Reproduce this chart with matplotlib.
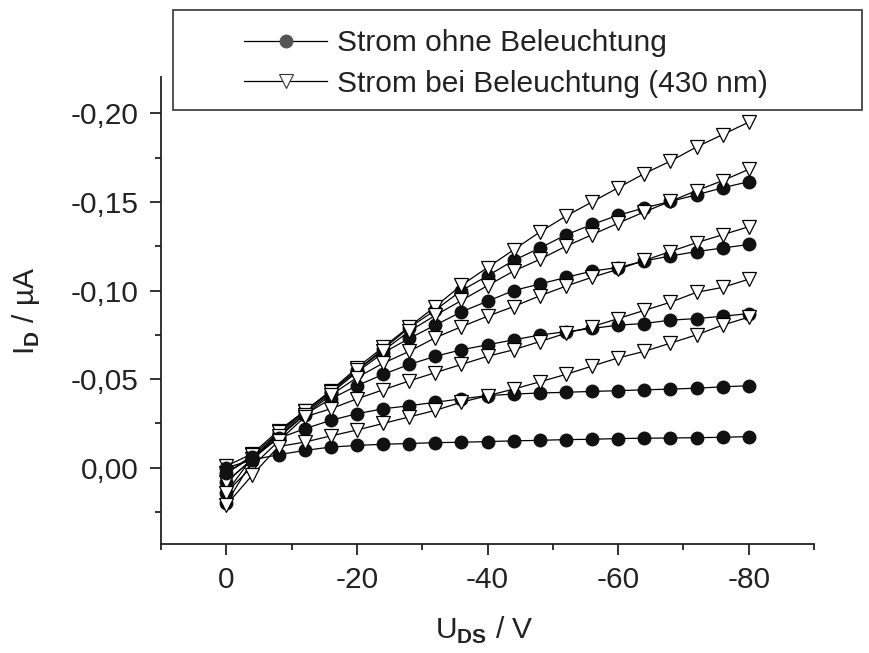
import numpy as np
import matplotlib
matplotlib.use('Agg')
import matplotlib.pyplot as plt
from matplotlib.lines import Line2D
from matplotlib.patches import Rectangle

plt.rcParams['font.family'] = ['Liberation Sans', 'DejaVu Sans']
plt.rcParams['mathtext.fontset'] = 'custom'
plt.rcParams['mathtext.rm'] = 'Liberation Sans'
plt.rcParams['mathtext.bf'] = 'Liberation Sans:bold'

# U_DS magnitude in V (plotted as 0 ... -80)
u_ds = np.arange(0, 81, 4)

# drain current magnitude in uA, without illumination (filled circles)
dark_1 = [-0.020, 0.004, 0.020, 0.032, 0.043, 0.055, 0.067, 0.079, 0.089, 0.100, 0.1083,
          0.117, 0.124, 0.1314, 0.1373, 0.1425, 0.1466, 0.1503, 0.154, 0.158, 0.1614]
dark_2 = [-0.014, 0.006, 0.019, 0.031, 0.042, 0.054, 0.0648, 0.073, 0.0805, 0.088, 0.094,
          0.100, 0.1037, 0.1074, 0.111, 0.113, 0.1167, 0.1195, 0.122, 0.124, 0.126]
dark_3 = [-0.008, 0.005, 0.017, 0.030, 0.0389, 0.0463, 0.0527, 0.0583, 0.0629, 0.0666, 0.0694,
          0.0722, 0.0749, 0.0768, 0.0786, 0.0805, 0.0814, 0.0833, 0.0842, 0.0855, 0.087]
dark_4 = [-0.003, 0.006, 0.0167, 0.022, 0.0268, 0.0305, 0.0333, 0.035, 0.037, 0.0389, 0.0407,
          0.0416, 0.0422, 0.0426, 0.0431, 0.0435, 0.044, 0.0444, 0.0449, 0.0457, 0.0463]
dark_5 = [0.000, 0.0045, 0.0074, 0.0098, 0.0117, 0.0126, 0.0133, 0.0137, 0.0142, 0.0144, 0.0148,
          0.0152, 0.0155, 0.0159, 0.0161, 0.0165, 0.0167, 0.0168, 0.0170, 0.0172, 0.0176]

# with illumination at 430 nm (open triangles)
light_1 = [0.001, 0.008, 0.021, 0.032, 0.0435, 0.0564, 0.068, 0.0796, 0.091, 0.103, 0.113,
           0.123, 0.133, 0.142, 0.150, 0.158, 0.166, 0.173, 0.181, 0.188, 0.195]
light_2 = [-0.003, 0.007, 0.020, 0.032, 0.043, 0.055, 0.066, 0.077, 0.086, 0.0944, 0.1028,
           0.111, 0.1176, 0.125, 0.1315, 0.138, 0.1444, 0.1503, 0.1564, 0.162, 0.1684]
light_3 = [-0.008, 0.005, 0.018, 0.030, 0.041, 0.0509, 0.059, 0.0657, 0.0734, 0.0796, 0.0855,
           0.091, 0.097, 0.1025, 0.1075, 0.112, 0.117, 0.122, 0.127, 0.1315, 0.136]
light_4 = [-0.014, 0.001, 0.015, 0.0287, 0.0333, 0.0389, 0.044, 0.049, 0.0537, 0.0583, 0.0629,
           0.0666, 0.0712, 0.0759, 0.0796, 0.0842, 0.0888, 0.0934, 0.099, 0.1018, 0.1064]
light_5 = [-0.021, -0.004, 0.012, 0.0145, 0.018, 0.0213, 0.025, 0.0287, 0.0324, 0.037, 0.0407,
           0.0444, 0.0485, 0.0527, 0.0574, 0.062, 0.0657, 0.0703, 0.075, 0.0805, 0.085]

dark = [dark_1, dark_2, dark_3, dark_4, dark_5]
light = [light_1, light_2, light_3, light_4, light_5]

FS = 21.5
INK = '#222222'

fig = plt.figure(figsize=(8.7, 6.53), dpi=100)
ax = fig.add_axes([0.1851, 0.1669, 0.7506, 0.7152])

for d, l in zip(dark, light):
    ax.plot(u_ds, d, color='black', lw=0.9, marker='o', markersize=9,
            markerfacecolor='#111111', markeredgecolor='#111111', zorder=3)
    ax.plot(u_ds, l, color='black', lw=0.9, marker='v', markersize=10,
            markerfacecolor='white', markeredgecolor='black', markeredgewidth=0.9, zorder=3)

ax.set_xlim(-10, 90)
ax.set_ylim(-0.043, 0.2205)
ax.set_xticks([0, 20, 40, 60, 80])
ax.set_xticks([-10, 10, 30, 50, 70, 90], minor=True)
ax.set_xticklabels(['0', '-20', '-40', '-60', '-80'])
yt = [0, 0.05, 0.10, 0.15, 0.20]
ax.set_yticks(yt)
ax.set_yticks([-0.025, 0.025, 0.075, 0.125, 0.175], minor=True)
ax.set_yticklabels(['0,00' if v == 0 else '-' + f'{v:.2f}'.replace('.', ',') for v in yt])

for s in ['top', 'right']:
    ax.spines[s].set_visible(False)
for s in ['left', 'bottom']:
    ax.spines[s].set_linewidth(1.3)
    ax.spines[s].set_color(INK)
ax.tick_params(which='major', direction='out', length=8, width=1.3, color=INK,
               labelsize=FS, labelcolor=INK, pad=8)
ax.tick_params(which='minor', direction='out', length=4.5, width=1.3, color=INK)

ax.set_xlabel(r'U$_\mathbf{DS}$ / V', fontsize=FS, color=INK)
ax.set_ylabel(r'I$_\mathbf{D}$ / µA', fontsize=FS, color=INK)
ax.xaxis.set_label_coords(0.495, -0.152)
ax.yaxis.set_label_coords(-0.183, 0.5)

# legend with a box wider than its content
fig.patches.append(Rectangle((173 / 870, 1 - 110 / 653), (862 - 173) / 870, 100 / 653,
                             transform=fig.transFigure, fill=False, lw=1.2,
                             edgecolor='#333333'))
handles = [
    Line2D([], [], color='black', lw=0.9, marker='o', markersize=9,
           markerfacecolor='#555555', markeredgecolor='#555555'),
    Line2D([], [], color='black', lw=0.9, marker='v', markersize=10,
           markerfacecolor='white', markeredgecolor='#333333', markeredgewidth=0.8),
]
fig.legend(handles, ['Strom ohne Beleuchtung', 'Strom bei Beleuchtung (430 nm)'],
           loc='upper left', bbox_to_anchor=(244 / 870, 1 - 29 / 653), frameon=False,
           fontsize=FS, handlelength=2.78, handletextpad=0.35, labelspacing=0.43,
           borderpad=0, borderaxespad=0, labelcolor=INK)

fig.savefig('out.png', dpi=100)
